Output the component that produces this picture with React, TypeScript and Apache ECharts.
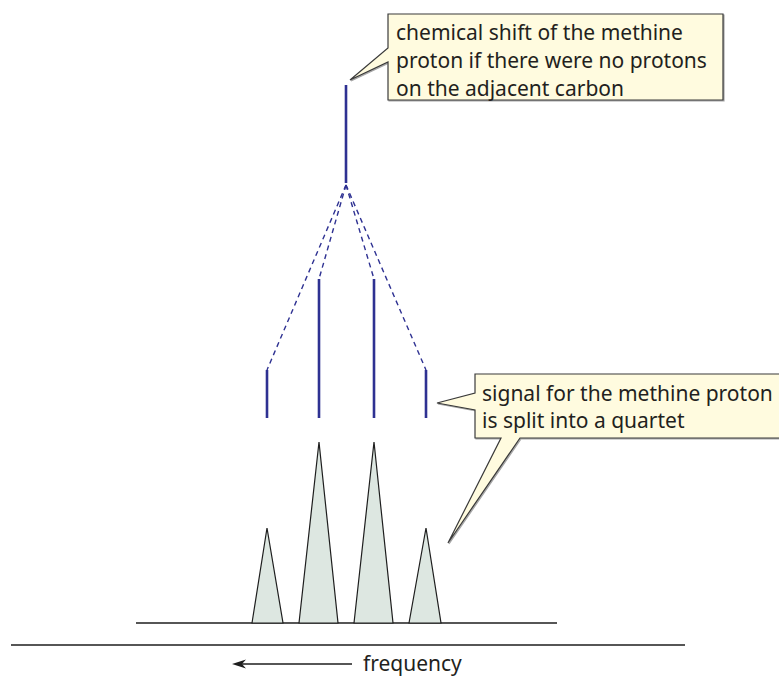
import React, { useEffect, useRef } from "react";
import * as echarts from "echarts";

// ---- data (diagram units = page pixels, y grows downward) ----
const splitX = [267, 319, 374, 426];
const splitTop = [370, 279, 279, 370];
const splitBottom = [418, 418, 418, 418];
const singletX = [346];
const singletTop = [85];
const singletBottom = [183];
const apex = [346, 185];

const peakX = [267, 319, 374, 426];
const peakTop = [528, 442, 442, 528];
const peakLeft = [252, 299, 354, 409];
const peakRight = [283, 338, 393, 441];
const baselineX = [136, 557];
const baselineY = 623;
const axisX = [11, 685];
const axisY = 645;

const topLabel = ["chemical shift of the methine", "proton if there were no protons", "on the adjacent carbon"];
const sideLabel = ["signal for the methine proton", "is split into a quartet"];
const axisLabel = "frequency";

const BLUE = "#2e3192";
const FONT = "'Noto Sans', 'Open Sans', sans-serif";

export default function App() {
  const ref = useRef<HTMLDivElement>(null);
  useEffect(() => {
    const chart = echarts.init(ref.current!, null, { renderer: "svg" });
    const sticks = [
      ...singletX.map((x, i) => [x, singletTop[i], singletBottom[i]]),
      ...splitX.map((x, i) => [x, splitTop[i], splitBottom[i]]),
    ];
    const dashes = splitX.map((x, i) => [apex[0], apex[1], x, splitTop[i]]);
    const peaks = peakX.map((x, i) => [x, peakTop[i], peakLeft[i], peakRight[i]]);

    chart.setOption({
      animation: false,
      grid: { left: 0, right: 0, top: 0, bottom: 0 },
      xAxis: { type: "value", min: 0, max: 779, show: false },
      yAxis: { type: "value", min: 0, max: 676, inverse: true, show: false },
      series: [
        {
          type: "line",
          data: baselineX.map((x) => [x, baselineY]),
          symbol: "none",
          lineStyle: { color: "#1e1e1e", width: 1.3 },
          z: 1,
        },
        {
          type: "line",
          data: axisX.map((x) => [x, axisY]),
          symbol: "none",
          lineStyle: { color: "#1e1e1e", width: 1.4 },
          z: 1,
        },
        {
          type: "custom",
          data: peaks,
          z: 2,
          renderItem: (_p: any, api: any) => {
            const a = api.coord([api.value(0), api.value(1)]);
            const l = api.coord([api.value(2), baselineY]);
            const r = api.coord([api.value(3), baselineY]);
            return {
              type: "polygon",
              shape: { points: [l, a, r] },
              style: { fill: "#dde7e1", stroke: "#1e1e1e", lineWidth: 1.2 },
            };
          },
        },
        {
          type: "custom",
          data: sticks,
          z: 3,
          renderItem: (_p: any, api: any) => {
            const a = api.coord([api.value(0), api.value(1)]);
            const b = api.coord([api.value(0), api.value(2)]);
            return {
              type: "line",
              shape: { x1: a[0], y1: a[1], x2: b[0], y2: b[1] },
              style: { stroke: BLUE, lineWidth: 2.6 },
            };
          },
        },
        {
          type: "custom",
          data: dashes,
          z: 3,
          renderItem: (_p: any, api: any) => {
            const a = api.coord([api.value(0), api.value(1)]);
            const b = api.coord([api.value(2), api.value(3)]);
            return {
              type: "line",
              shape: { x1: a[0], y1: a[1], x2: b[0], y2: b[1] },
              style: { stroke: BLUE, lineWidth: 1.4, lineDash: [5, 4] },
            };
          },
        },
      ],
      graphic: [
        {
          type: "polygon",
          shape: {
            points: [[388, 14], [723, 14], [723, 100], [388, 100], [388, 62], [350, 80], [388, 48]],
          },
          style: { fill: "#fffbdf", stroke: "#3a3a3a", lineWidth: 1.2, shadowColor: "rgba(0,0,0,0.35)", shadowOffsetX: 1, shadowOffsetY: 1, shadowBlur: 1 },
          z: 10,
        },
        {
          type: "text",
          x: 396,
          y: 18,
          style: { text: topLabel.join("\n"), font: `21px ${FONT}`, lineHeight: 28, fill: "#231f20", verticalAlign: "top" },
          z: 11,
        },
        {
          type: "polygon",
          shape: {
            points: [[475, 374], [795, 374], [795, 438], [520, 438], [448, 543], [501, 438], [475, 438], [475, 410], [437, 403], [475, 393]],
          },
          style: { fill: "#fffbdf", stroke: "#3a3a3a", lineWidth: 1.2, shadowColor: "rgba(0,0,0,0.35)", shadowOffsetX: 1, shadowOffsetY: 1, shadowBlur: 1 },
          z: 10,
        },
        {
          type: "text",
          x: 482,
          y: 379,
          style: { text: sideLabel.join("\n"), font: `21px ${FONT}`, lineHeight: 27, fill: "#231f20", verticalAlign: "top" },
          z: 11,
        },
        {
          type: "line",
          shape: { x1: 240, y1: 664, x2: 352, y2: 664 },
          style: { stroke: "#1e1e1e", lineWidth: 1.3 },
        },
        {
          type: "polygon",
          shape: { points: [[232, 664], [246, 659.5], [242, 664], [246, 668.5]] },
          style: { fill: "#1e1e1e" },
        },
        {
          type: "text",
          x: 363,
          y: 663,
          style: { text: axisLabel, font: `21px ${FONT}`, lineHeight: 22, fill: "#231f20", verticalAlign: "middle" },
        },
      ],
    });
    return () => chart.dispose();
  }, []);
  return (
    <div
      ref={ref}
      style={{ position: "fixed", left: 0, top: 0, width: 779, height: 676, background: "#fff" }}
    />
  );
}
